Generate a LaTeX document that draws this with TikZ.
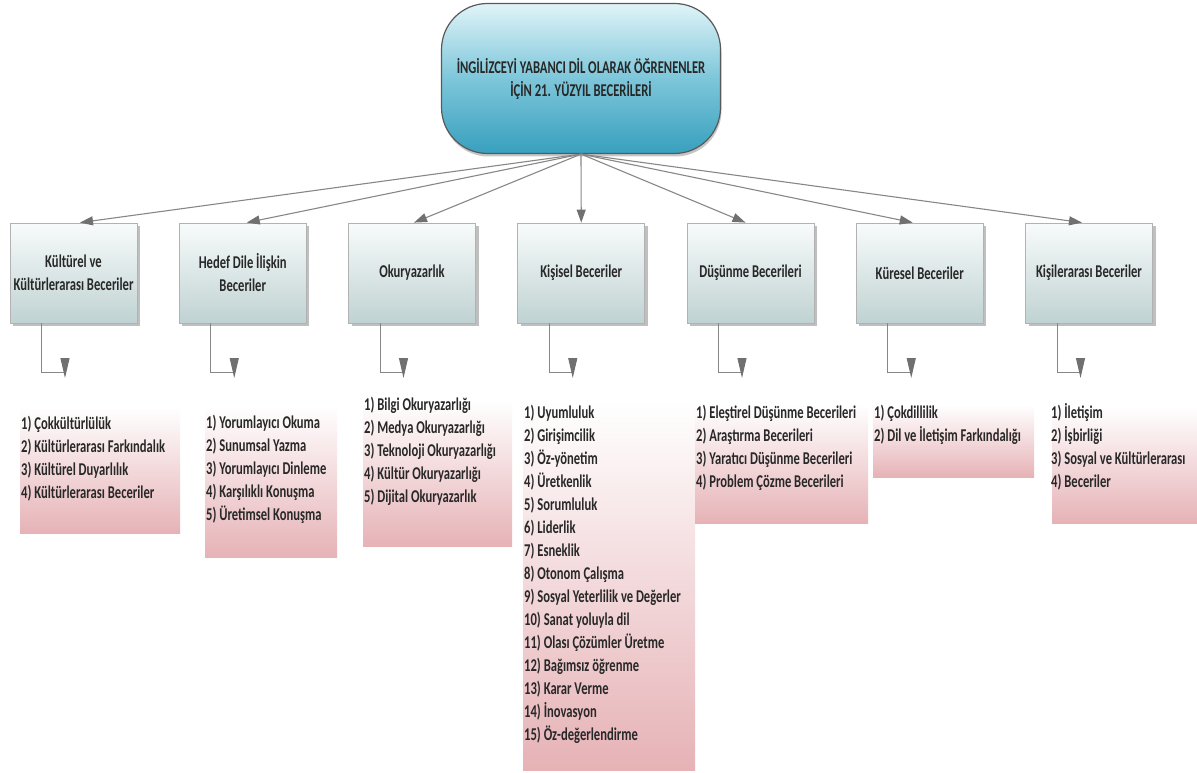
\documentclass[tikz,border=0pt]{standalone}
\usepackage{fontspec}
\setmainfont{Carlito}[FakeStretch=0.70]
\usetikzlibrary{arrows.meta,shadows}
\definecolor{txt}{RGB}{40,40,40}
\definecolor{lnk}{RGB}{135,135,135}
\definecolor{tipc}{RGB}{112,112,112}
\definecolor{topA}{RGB}{224,244,248}
\definecolor{topM}{RGB}{125,198,218}
\definecolor{topB}{RGB}{56,160,190}
\definecolor{catA}{RGB}{248,251,251}
\definecolor{catB}{RGB}{192,210,210}
\definecolor{pinkB}{RGB}{230,178,182}
\newcommand\mylist[1]{\parbox[t]{230pt}{\raggedright #1}}
\begin{document}
\begin{tikzpicture}[x=1pt,y=-1pt,
  every node/.style={font=\fontsize{18}{23}\selectfont\bfseries, text=txt},
  topbox/.style={rounded corners=46pt, draw=black!65, line width=1.2pt,
    top color=topA, bottom color=topB, middle color=topM,
    minimum width=279pt, minimum height=150pt, align=center,
    drop shadow={shadow xshift=1pt,shadow yshift=-3pt,opacity=0.45}},
  catbox/.style={draw=black!30, line width=0.8pt, top color=catA, bottom color=catB,
    minimum width=127pt, minimum height=100pt, align=center, inner sep=2pt,
    drop shadow={shadow xshift=3pt,shadow yshift=-3pt,opacity=0.5}},
  listbox/.style={top color=white, bottom color=pinkB, draw=none, inner sep=0pt, anchor=north west},
  listtxt/.style={anchor=base west, inner sep=0pt},
  arr/.style={draw=lnk, line width=1.1pt, -{Triangle[length=13pt,width=9pt,color=tipc]}},
  elb/.style={draw=lnk, line width=1pt, -{Triangle[length=20pt,width=9pt,color=tipc]}}
]
\useasboundingbox (0,0) rectangle (1197,773);

% list boxes (drawn first, behind)
\node[listbox, minimum width=160pt, minimum height=126pt] (l1) at (20,407) {};
\node[listbox, minimum width=132pt, minimum height=152pt] (l2) at (205,405) {};
\node[listbox, minimum width=149pt, minimum height=146pt] (l3) at (363,400) {};
\node[listbox, minimum width=172pt, minimum height=370pt] (l4) at (523,400) {};
\node[listbox, minimum width=173pt, minimum height=118pt] (l5) at (695,405) {};
\node[listbox, minimum width=161pt, minimum height=72pt] (l6) at (873,405) {};
\node[listbox, minimum width=145pt, minimum height=116pt] (l7) at (1052,407) {};

\node[listtxt] (t1) at (21,429.5) {\mylist{1) Çokkültürlülük\\2) Kültürlerarası Farkındalık\\3) Kültürel Duyarlılık\\4) Kültürlerarası Beceriler}};
\node[listtxt] (t2) at (206,428.5) {\mylist{1) Yorumlayıcı Okuma\\2) Sunumsal Yazma\\3) Yorumlayıcı Dinleme\\4) Karşılıklı Konuşma\\5) Üretimsel Konuşma}};
\node[listtxt] (t3) at (364,410.5) {\mylist{1) Bilgi Okuryazarlığı\\2) Medya Okuryazarlığı\\3) Teknoloji Okuryazarlığı\\4) Kültür Okuryazarlığı\\5) Dijital Okuryazarlık}};
\node[listtxt] (t4) at (524,418.5) {\mylist{1) Uyumluluk\\2) Girişimcilik\\3) Öz-yönetim\\4) Üretkenlik\\5) Sorumluluk\\6) Liderlik\\7) Esneklik\\8) Otonom Çalışma\\9) Sosyal Yeterlilik ve Değerler\\10) Sanat yoluyla dil\\11) Olası Çözümler Üretme\\12) Bağımsız öğrenme\\13) Karar Verme\\14) İnovasyon\\15) Öz-değerlendirme}};
\node[listtxt] (t5) at (696,418.5) {\mylist{1) Eleştirel Düşünme Becerileri\\2) Araştırma Becerileri\\3) Yaratıcı Düşünme Becerileri\\4) Problem Çözme Becerileri}};
\node[listtxt] (t6) at (874,418.5) {\mylist{1) Çokdillilik\\2) Dil ve İletişim Farkındalığı}};
\node[listtxt] (t7) at (1051,418.5) {\mylist{1) İletişim\\2) İşbirliği\\3) Sosyal ve Kültürlerarası\\4) Beceriler}};

% top node
\node[topbox] (top) at (581,78.5) {İNGİLİZCEYİ YABANCI DİL OLARAK ÖĞRENENLER\\İÇİN 21. YÜZYIL BECERİLERİ};

% category boxes
\node[catbox] (b1) at (73.5,273) {Kültürel ve\\Kültürlerarası Beceriler};
\node[catbox] (b2) at (242.75,273) {Hedef Dile İlişkin\\Beceriler};
\node[catbox] (b3) at (412,273) {Okuryazarlık};
\node[catbox] (b4) at (581.25,273) {Kişisel Beceriler};
\node[catbox] (b5) at (750.5,273) {Düşünme Becerileri};
\node[catbox] (b6) at (919.75,273) {Küresel Beceriler};
\node[catbox] (b7) at (1089,273) {Kişilerarası Beceriler};

% arrows from top
\draw[arr] (top.south) -- ([xshift=6.5pt]b1.north);
\draw[arr] (top.south) -- ([xshift=4pt]b2.north);
\draw[arr] (top.south) -- ([xshift=2pt]b3.north);
\draw[arr] (top.south) -- (b4.north);
\draw[arr] (top.south) -- ([xshift=-5pt]b5.north);
\draw[arr] (top.south) -- ([xshift=-7pt]b6.north);
\draw[arr] (top.south) -- ([xshift=-7pt]b7.north);

% elbow connectors
\foreach \i/\cx in {1/73.5,2/242.75,3/412,4/581.25,5/750.5,6/919.75,7/1089}{
  \coordinate (e\i) at (\cx-8.5,378);
  \draw[elb] ([xshift=32pt]b\i.south west) |- ([yshift=6pt]e\i) -- (e\i);
}
\end{tikzpicture}
\end{document}
